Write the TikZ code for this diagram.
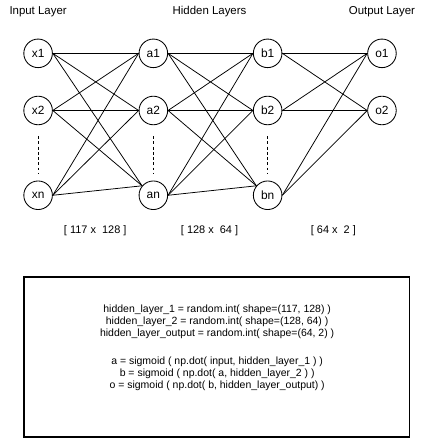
\documentclass[tikz,border=0pt]{standalone}
\usepackage{fontspec}
\setmainfont{Liberation Sans}
\begin{document}
\begin{tikzpicture}[x=1pt,y=-1pt,
  neuron/.style={circle,draw,line width=0.9pt,minimum size=30pt,inner sep=0pt,font=\fontsize{12.5}{12.5}\selectfont},
  title/.style={font=\fontsize{12}{12}\selectfont},
  dims/.style={font=\fontsize{11.5}{12}\selectfont},
  codetext/.style={align=center,font=\fontsize{11}{12.5}\selectfont},
  edge/.style={line width=0.8pt},
  dots/.style={line width=0.8pt,dash pattern=on 3pt off 2.5pt},
  frame/.style={draw,line width=1.6pt}]
\useasboundingbox (0,0) rectangle (441,463);
% titles
\node[title] (tin) at (40,12) {Input Layer};
\node[title] (thid) at (220,12) {Hidden Layers};
\node[title] (tout) at (401,12) {Output Layer};
% neurons
\node[neuron] (x1) at (40,56) {x1};
\node[neuron] (x2) at (40,116) {x2};
\node[neuron] (xn) at (40,205) {xn};
\node[neuron] (a1) at (161,56) {a1};
\node[neuron] (a2) at (161,116) {a2};
\node[neuron] (an) at (161,205) {an};
\node[neuron] (b1) at (281,56) {b1};
\node[neuron] (b2) at (281,116) {b2};
\node[neuron] (bn) at (281,205) {bn};
\node[neuron] (o1) at (401,56) {o1};
\node[neuron] (o2) at (401,116) {o2};
% dotted columns
\coordinate (dx1) at (40,143); \coordinate (dx2) at (40,183);
\coordinate (da1) at (161,143); \coordinate (da2) at (161,183);
\coordinate (db1) at (281,143); \coordinate (db2) at (281,183);
\draw[dots] (dx1) -- (dx2);
\draw[dots] (da1) -- (da2);
\draw[dots] (db1) -- (db2);
% edges input -> a
\foreach \s in {x1,x2,xn}{
  \draw[edge] (\s.east) -- (a1.west);
  \draw[edge] (\s.east) -- (a2.west);
  \draw[edge] (\s.east) -- (an.140);
}
% edges a -> b
\foreach \s in {a1,a2,an}{
  \draw[edge] (\s.east) -- (b1.west);
  \draw[edge] (\s.east) -- (b2.west);
  \draw[edge] (\s.east) -- (bn.140);
}
% edges b -> o
\foreach \s in {b1,b2,bn}{
  \draw[edge] (\s.east) -- (o1.west);
  \draw[edge] (\s.east) -- (o2.west);
}
% dimensions
\node[dims] (d1) at (100,242) {[ 117 x\ \ 128 ]};
\node[dims] (d2) at (220,242) {[ 128 x\ \ 64 ]};
\node[dims] (d3) at (350,242) {[ 64 x\ \ 2 ]};
% code box
\node[frame,minimum width=405pt,minimum height=168pt,inner sep=0pt] (box) at (227.5,375) {};
\node[codetext] (code1) at (228,337.5) {hidden\_layer\_1 = random.int( shape=(117, 128) )\\hidden\_layer\_2 = random.int( shape=(128, 64) )\\hidden\_layer\_output = random.int( shape=(64, 2) )};
\node[codetext] (code2) at (228,392.5) {a = sigmoid ( np.dot( input, hidden\_layer\_1 ) )\\b = sigmoid ( np.dot( a, hidden\_layer\_2 ) )\\o = sigmoid ( np.dot( b, hidden\_layer\_output) )};
\end{tikzpicture}
\end{document}
